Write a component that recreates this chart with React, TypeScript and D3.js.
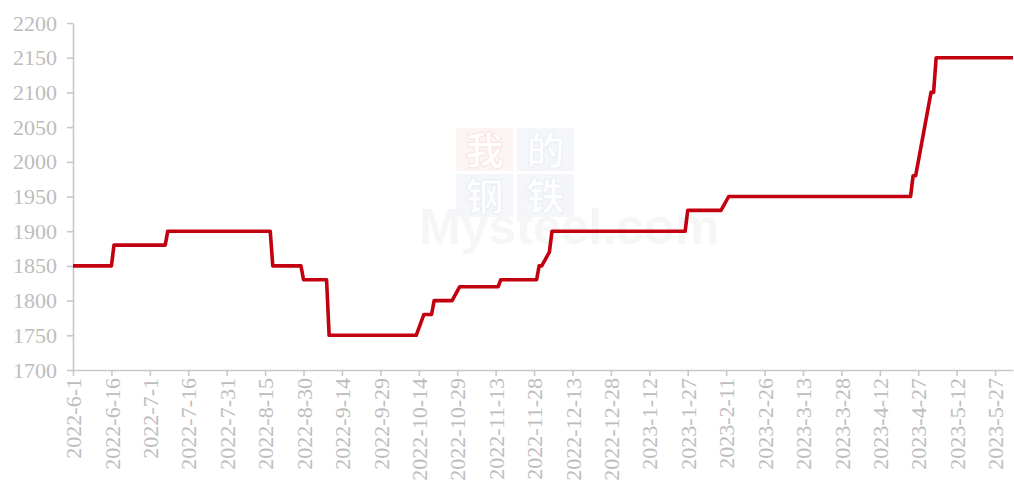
import React from "react";
import * as d3 from "d3";

// change points of the price line (the line runs straight between them)
const dates = [
  "2022-06-01", "2022-06-16", "2022-06-17", "2022-07-07", "2022-07-08",
  "2022-08-17", "2022-08-18", "2022-08-29", "2022-08-30", "2022-09-08",
  "2022-09-09", "2022-10-13", "2022-10-16", "2022-10-19", "2022-10-20",
  "2022-10-27", "2022-10-30", "2022-11-14", "2022-11-15", "2022-11-29",
  "2022-11-30", "2022-12-01", "2022-12-04", "2022-12-05", "2023-01-26",
  "2023-01-27", "2023-02-09", "2023-02-12", "2023-04-24", "2023-04-25",
  "2023-04-26", "2023-05-02", "2023-05-03", "2023-05-04", "2023-06-03",
];
const prices = [
  1850, 1850, 1880, 1880, 1900,
  1900, 1850, 1850, 1830, 1830,
  1750, 1750, 1780, 1780, 1800,
  1800, 1820, 1820, 1830, 1830,
  1850, 1850, 1870, 1900, 1900,
  1930, 1930, 1950, 1950, 1980,
  1980, 2100, 2100, 2150, 2150,
];
const yTicks = [1700, 1750, 1800, 1850, 1900, 1950, 2000, 2050, 2100, 2150, 2200];
const tickStart = "2022-06-01";
const tickStep = 15; // days between x labels

const watermarkChars = ["我", "的", "钢", "铁"];

const W = 1014;
const H = 489;
const margin = { left: 73, right: 1, top: 23, bottom: 119 };

const ChartD3 = () => {
  const svgRef = React.useRef<SVGSVGElement | null>(null);

  React.useEffect(() => {
    drawChart();
  }, []);

  const drawChart = () => {
    if (!svgRef.current) return;
    const parse = d3.timeParse("%Y-%m-%d");
    const data = dates.map((d, i) => ({ date: parse(d) as Date, value: prices[i] }));

    const x = d3
      .scaleTime()
      .domain([data[0].date, data[data.length - 1].date])
      .range([margin.left, W - margin.right]);
    const y = d3
      .scaleLinear()
      .domain([1700, 2200])
      .range([H - margin.bottom, margin.top]);

    const svg = d3.select(svgRef.current);
    svg.selectAll("*").remove();

    const axisColor = "#c8c8c8";
    const textColor = "#bdbdbd";
    const font = "'Liberation Serif', 'Times New Roman', serif";

    // watermark (very faint)
    const wm = svg.append("g").attr("pointer-events", "none");
    const boxFill = ["#fdf3f3", "#f3f5fa", "#f3f5fa", "#f3f5fa"];
    const charStroke = ["#f9e1e1", "#e9edf6", "#e9edf6", "#e9edf6"];
    wm.append("text")
      .attr("x", 419).attr("y", 244)
      .style("font", "bold 50px 'Liberation Sans', Arial, sans-serif")
      .attr("fill", "#f6f6f6")
      .text("Mysteel.com");
    watermarkChars.forEach((c, i) => {
      const bx = 456 + (i % 2) * 61;
      const by = 128 + Math.floor(i / 2) * 46;
      wm.append("rect")
        .attr("x", bx).attr("y", by)
        .attr("width", 57).attr("height", 43)
        .attr("fill", boxFill[i])
        .attr("fill-opacity", 0.9);
      wm.append("text")
        .attr("x", bx + 28.5).attr("y", by + 36)
        .attr("text-anchor", "middle")
        .style("font", `bold 38px 'Noto Sans CJK SC', sans-serif`)
        .attr("fill", "#ffffff")
        .attr("stroke", charStroke[i])
        .attr("stroke-width", 0.8)
        .text(c);
    });

    // y axis
    const gy = svg
      .append("g")
      .attr("transform", `translate(${margin.left},0)`)
      .call(d3.axisLeft(y).tickValues(yTicks).tickSize(6).tickSizeOuter(0).tickPadding(10).tickFormat(d3.format("d")));
    gy.selectAll("path, line").attr("stroke", axisColor).attr("stroke-width", 1.6);
    gy.selectAll("text").attr("fill", textColor).style("font", `22px ${font}`);

    // x axis
    const t0 = parse(tickStart) as Date;
    const xTicks = d3.timeDay.range(t0, d3.timeDay.offset(x.domain()[1], 1), tickStep);
    const gx = svg
      .append("g")
      .attr("transform", `translate(0,${H - margin.bottom})`)
      .call(
        d3.axisBottom(x)
          .tickValues(xTicks)
          .tickSize(6)
          .tickSizeOuter(0)
          .tickFormat((d) => {
            const dt = d as Date;
            return `${dt.getFullYear()}-${dt.getMonth() + 1}-${dt.getDate()}`;
          })
      );
    gx.selectAll("path, line").attr("stroke", axisColor).attr("stroke-width", 1.6);
    gx.selectAll("text")
      .attr("fill", textColor)
      .style("font", `22px ${font}`)
      .attr("text-anchor", "end")
      .attr("transform", "rotate(-90)")
      .attr("x", -8)
      .attr("y", 0)
      .attr("dy", "0.35em");

    // line
    const line = d3
      .line<{ date: Date; value: number }>()
      .x((d) => x(d.date))
      .y((d) => y(d.value));
    svg
      .append("path")
      .datum(data)
      .attr("fill", "none")
      .attr("stroke", "#c2000f")
      .attr("stroke-width", 3.6)
      .attr("stroke-linejoin", "round")
      .attr("d", line);
  };

  return (
    <svg
      ref={svgRef}
      width={W}
      height={H}
      style={{ position: "absolute", left: 0, top: 0, background: "#fff" }}
    />
  );
};

export default function App() {
  return <ChartD3 />;
}
